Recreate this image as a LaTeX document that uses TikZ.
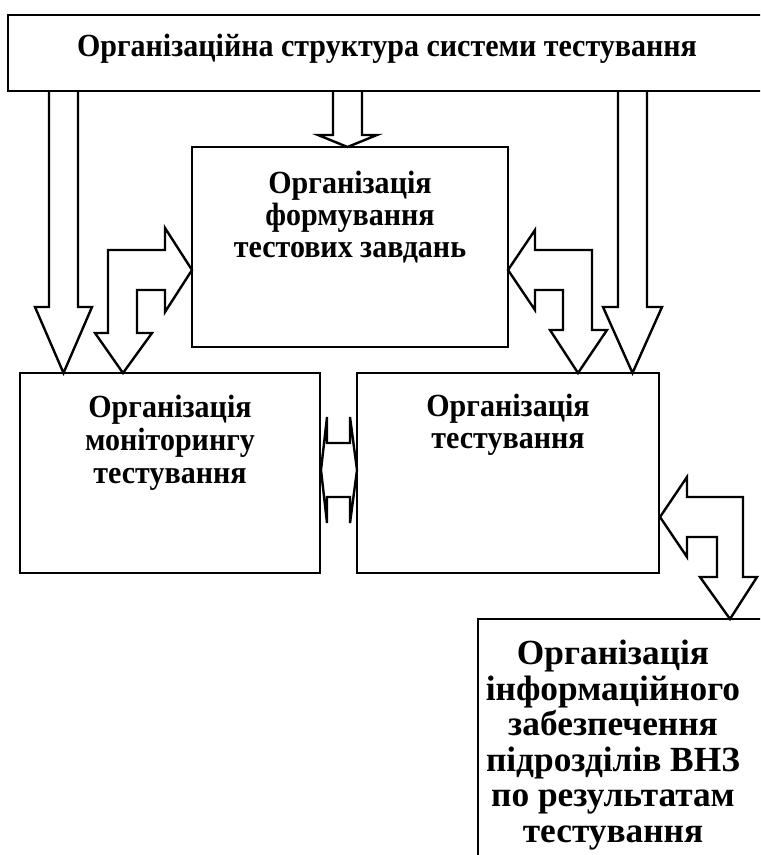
\documentclass[tikz,border=0pt]{standalone}
\usepackage{fontspec}
\setmainfont{Liberation Serif}
\newfontfamily\vuzkyi[FakeStretch=0.93]{Liberation Serif}
\usetikzlibrary{fit}

\begin{document}
\begin{tikzpicture}[line cap=round,line join=miter,x=0.75pt,y=-0.75pt,
  blok/.style={draw,line width=1.8pt,inner sep=0pt},
  strilka/.style={draw,line width=1.8pt},
  napys/.style={inner sep=0pt,align=center,font=\vuzkyi\bfseries\fontsize{24.2}{24}\selectfont}]
\useasboundingbox (0,0) rectangle (760,855);
\clip (0,0) rectangle (760,855);
\node [blok,fit={(8,15) (790,91)}] (top) {};
\node [blok,fit={(192,147) (508,347)}] (form) {};
\node [blok,fit={(20,373) (320,573)}] (mon) {};
\node [blok,fit={(357,373) (659,573)}] (test) {};
\node [blok,fit={(478,619) (800,900)}] (info) {};
\node [napys,anchor=base] (toptxt) at (387,57) {Організаційна структура системи тестування};
\node [napys,anchor=north] (formtxt) at (350,171) {Організація\\формування\\тестових завдань};
\node [napys,anchor=north,font=\vuzkyi\bfseries\fontsize{24.2}{24.8}\selectfont] (montxt) at (170,395) {Організація\\моніторингу\\тестування};
\node [napys,anchor=north] (testtxt) at (508,394) {Організація\\тестування};
\node [napys,anchor=north,font=\bfseries\fontsize{26.5}{26.6}\selectfont] (infotxt) at (613,640) {Організація\\інформаційного\\забезпечення\\підрозділів ВНЗ\\по результатам\\тестування};
\draw [strilka] (49,91)-- (49,307)-- (35,307)-- (63.5,373)-- (92,307)-- (78,307)-- (78,91);
\draw [strilka] (333,91)-- (333,135)-- (318,135)-- (347.5,147)-- (377,135)-- (362,135)-- (362,91);
\draw [strilka] (618,91)-- (618,307)-- (603,307)-- (632.5,373)-- (662,307)-- (647,307)-- (647,91);
\draw [strilka] (192,270)-- (165,228)-- (165,250)-- (108,250)-- (108,333)-- (95,333)-- (123,373)-- (152,333)-- (137,333)-- (137,290)-- (165,290)-- (165,312)-- cycle;
\draw [strilka] (508,270)-- (535,230)-- (535,250)-- (592,250)-- (592,330)-- (607,330)-- (578,373)-- (550,330)-- (563,330)-- (563,290)-- (535,290)-- (535,310)-- cycle;
\draw [strilka] (321,470)-- (327,417)-- (327,443)-- (350,443)-- (350,417)-- (357,470)-- (350,523)-- (350,497)-- (327,497)-- (327,523)-- cycle;
\draw [strilka] (660,517)-- (687,477)-- (687,497)-- (743,497)-- (743,577)-- (757,577)-- (730,619)-- (700,577)-- (717,577)-- (717,537)-- (687,537)-- (687,557)-- cycle;
\end{tikzpicture}
\end{document}
